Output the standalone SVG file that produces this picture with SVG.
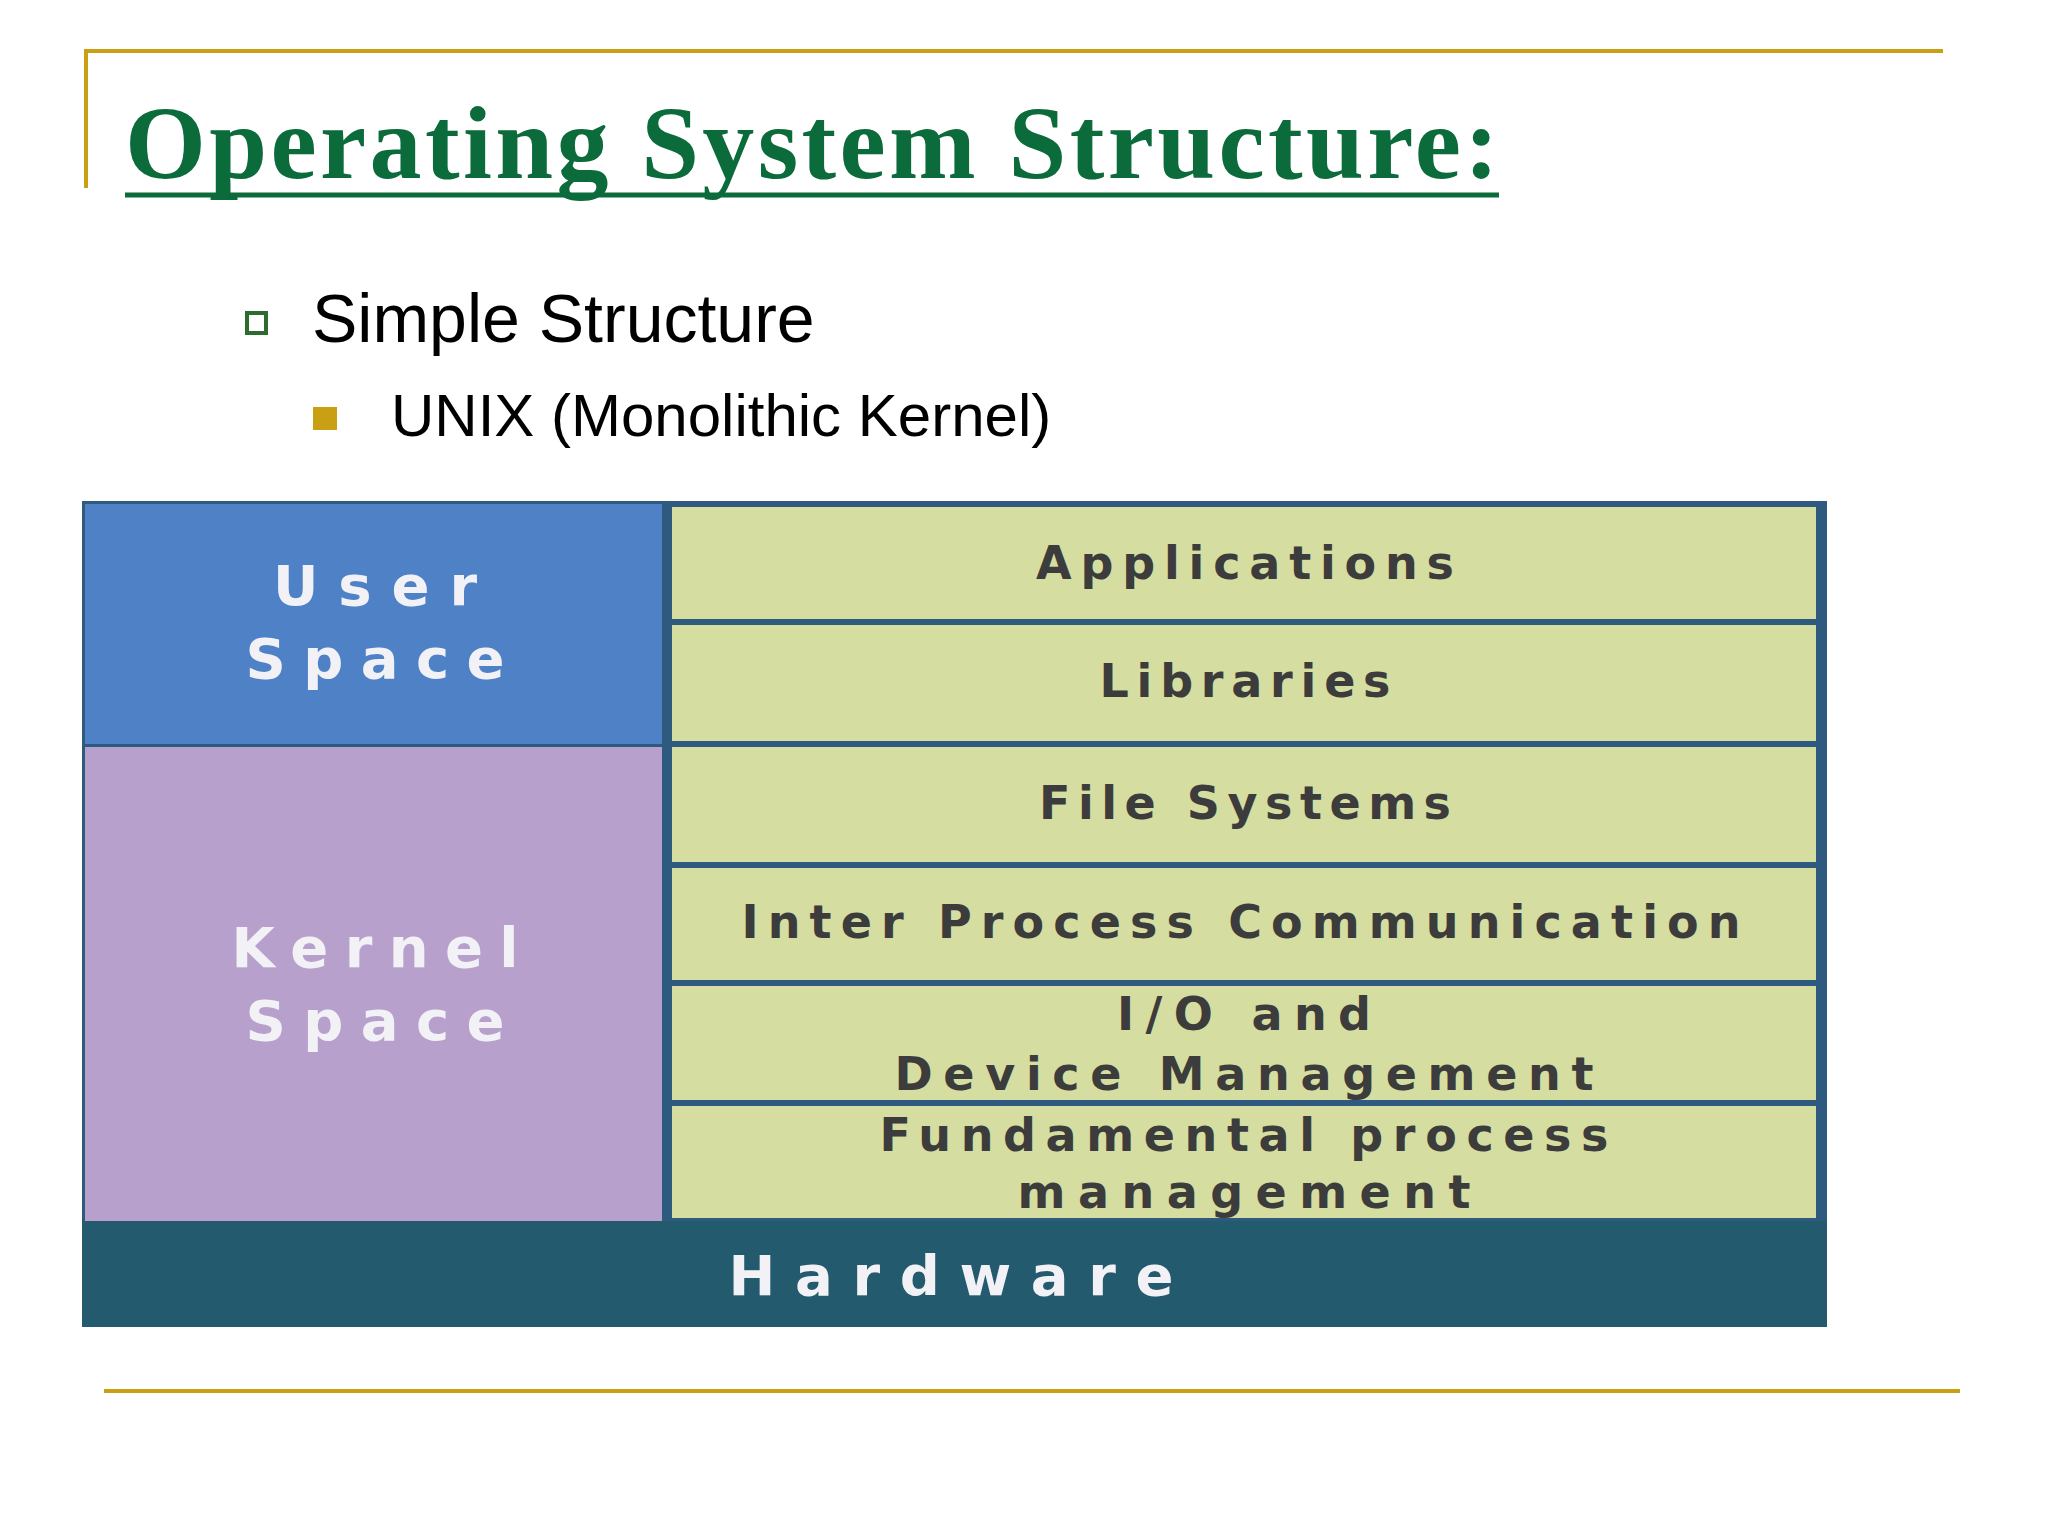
<svg xmlns="http://www.w3.org/2000/svg" width="2048" height="1536" viewBox="0 0 2048 1536">
<style>
.gold{stroke:#C9A013;stroke-width:4;fill:none}
.cell{fill:#D5DEA0;stroke:#2F5A80;stroke-width:6}
.ct{font-family:"DejaVu Sans",sans-serif;font-weight:bold;font-size:46px;fill:#3c3c3c;text-anchor:middle}
.wt{font-family:"DejaVu Sans",sans-serif;font-weight:bold;font-size:56px;fill:#F2F2F6;text-anchor:middle}
</style>
<rect width="2048" height="1536" fill="#fff"/>
<g id="frame">
<path class="gold" d="M86 188V51H1943"/>
<line class="gold" x1="104" y1="1391" x2="1960" y2="1391"/>
</g>
<g id="title">
<text x="125" y="178" font-family="Liberation Serif,serif" font-weight="bold" font-size="104" fill="#0B6B3A" textLength="1374">Operating System Structure:</text>
<line x1="125" y1="195" x2="1499" y2="195" stroke="#0B6B3A" stroke-width="5"/>
</g>
<g id="bullets">
<rect x="247" y="313" width="19" height="20" fill="none" stroke="#2E6B2E" stroke-width="4"/>
<text x="312" y="342" font-family="Liberation Sans,sans-serif" font-size="68" fill="#000">Simple Structure</text>
<rect x="313" y="407" width="24" height="23" fill="#C9A013"/>
<text x="391" y="436" font-family="Liberation Sans,sans-serif" font-size="60" fill="#000">UNIX (Monolithic Kernel)</text>
</g>
<g id="diagram">
<rect x="82" y="501" width="1745" height="826" fill="#2F5A80"/>
<g id="user-space"><rect x="85" y="504" width="577" height="240" fill="#4F81C7"/>
<text class="wt" x="375" y="605" textLength="204">User</text><text class="wt" x="375" y="678" textLength="259">Space</text></g>
<g id="kernel-space"><rect x="85" y="747" width="577" height="474" fill="#B7A0CC"/>
<text class="wt" x="375" y="967" textLength="287">Kernel</text><text class="wt" x="375" y="1040" textLength="259">Space</text></g>
<g id="applications"><rect class="cell" x="669" y="504" width="1150" height="118"/><text class="ct" x="1245" y="579" textLength="418">Applications</text></g>
<g id="libraries"><rect class="cell" x="669" y="622" width="1150" height="122"/><text class="ct" x="1245" y="697" textLength="291">Libraries</text></g>
<g id="file-systems"><rect class="cell" x="669" y="744" width="1150" height="121"/><text class="ct" x="1245" y="819" textLength="412">File Systems</text></g>
<g id="ipc"><rect class="cell" x="669" y="865" width="1150" height="118"/><text class="ct" x="1241" y="938" textLength="999">Inter Process Communication</text></g>
<g id="io"><rect class="cell" x="669" y="983" width="1150" height="120"/><text class="ct" x="1244" y="1030" textLength="254">I/O and</text><text class="ct" x="1244" y="1090" textLength="699">Device Management</text></g>
<g id="fpm"><rect class="cell" x="669" y="1103" width="1150" height="118"/><text class="ct" x="1244" y="1151" textLength="729">Fundamental process</text><text class="ct" x="1244" y="1208" textLength="453">management</text></g>
<g id="hardware"><rect x="82" y="1221" width="1745" height="106" fill="#235A6E"/><text class="wt" x="951" y="1295" textLength="445">Hardware</text></g>
</g>
<g id="connectors"/>
</svg>
